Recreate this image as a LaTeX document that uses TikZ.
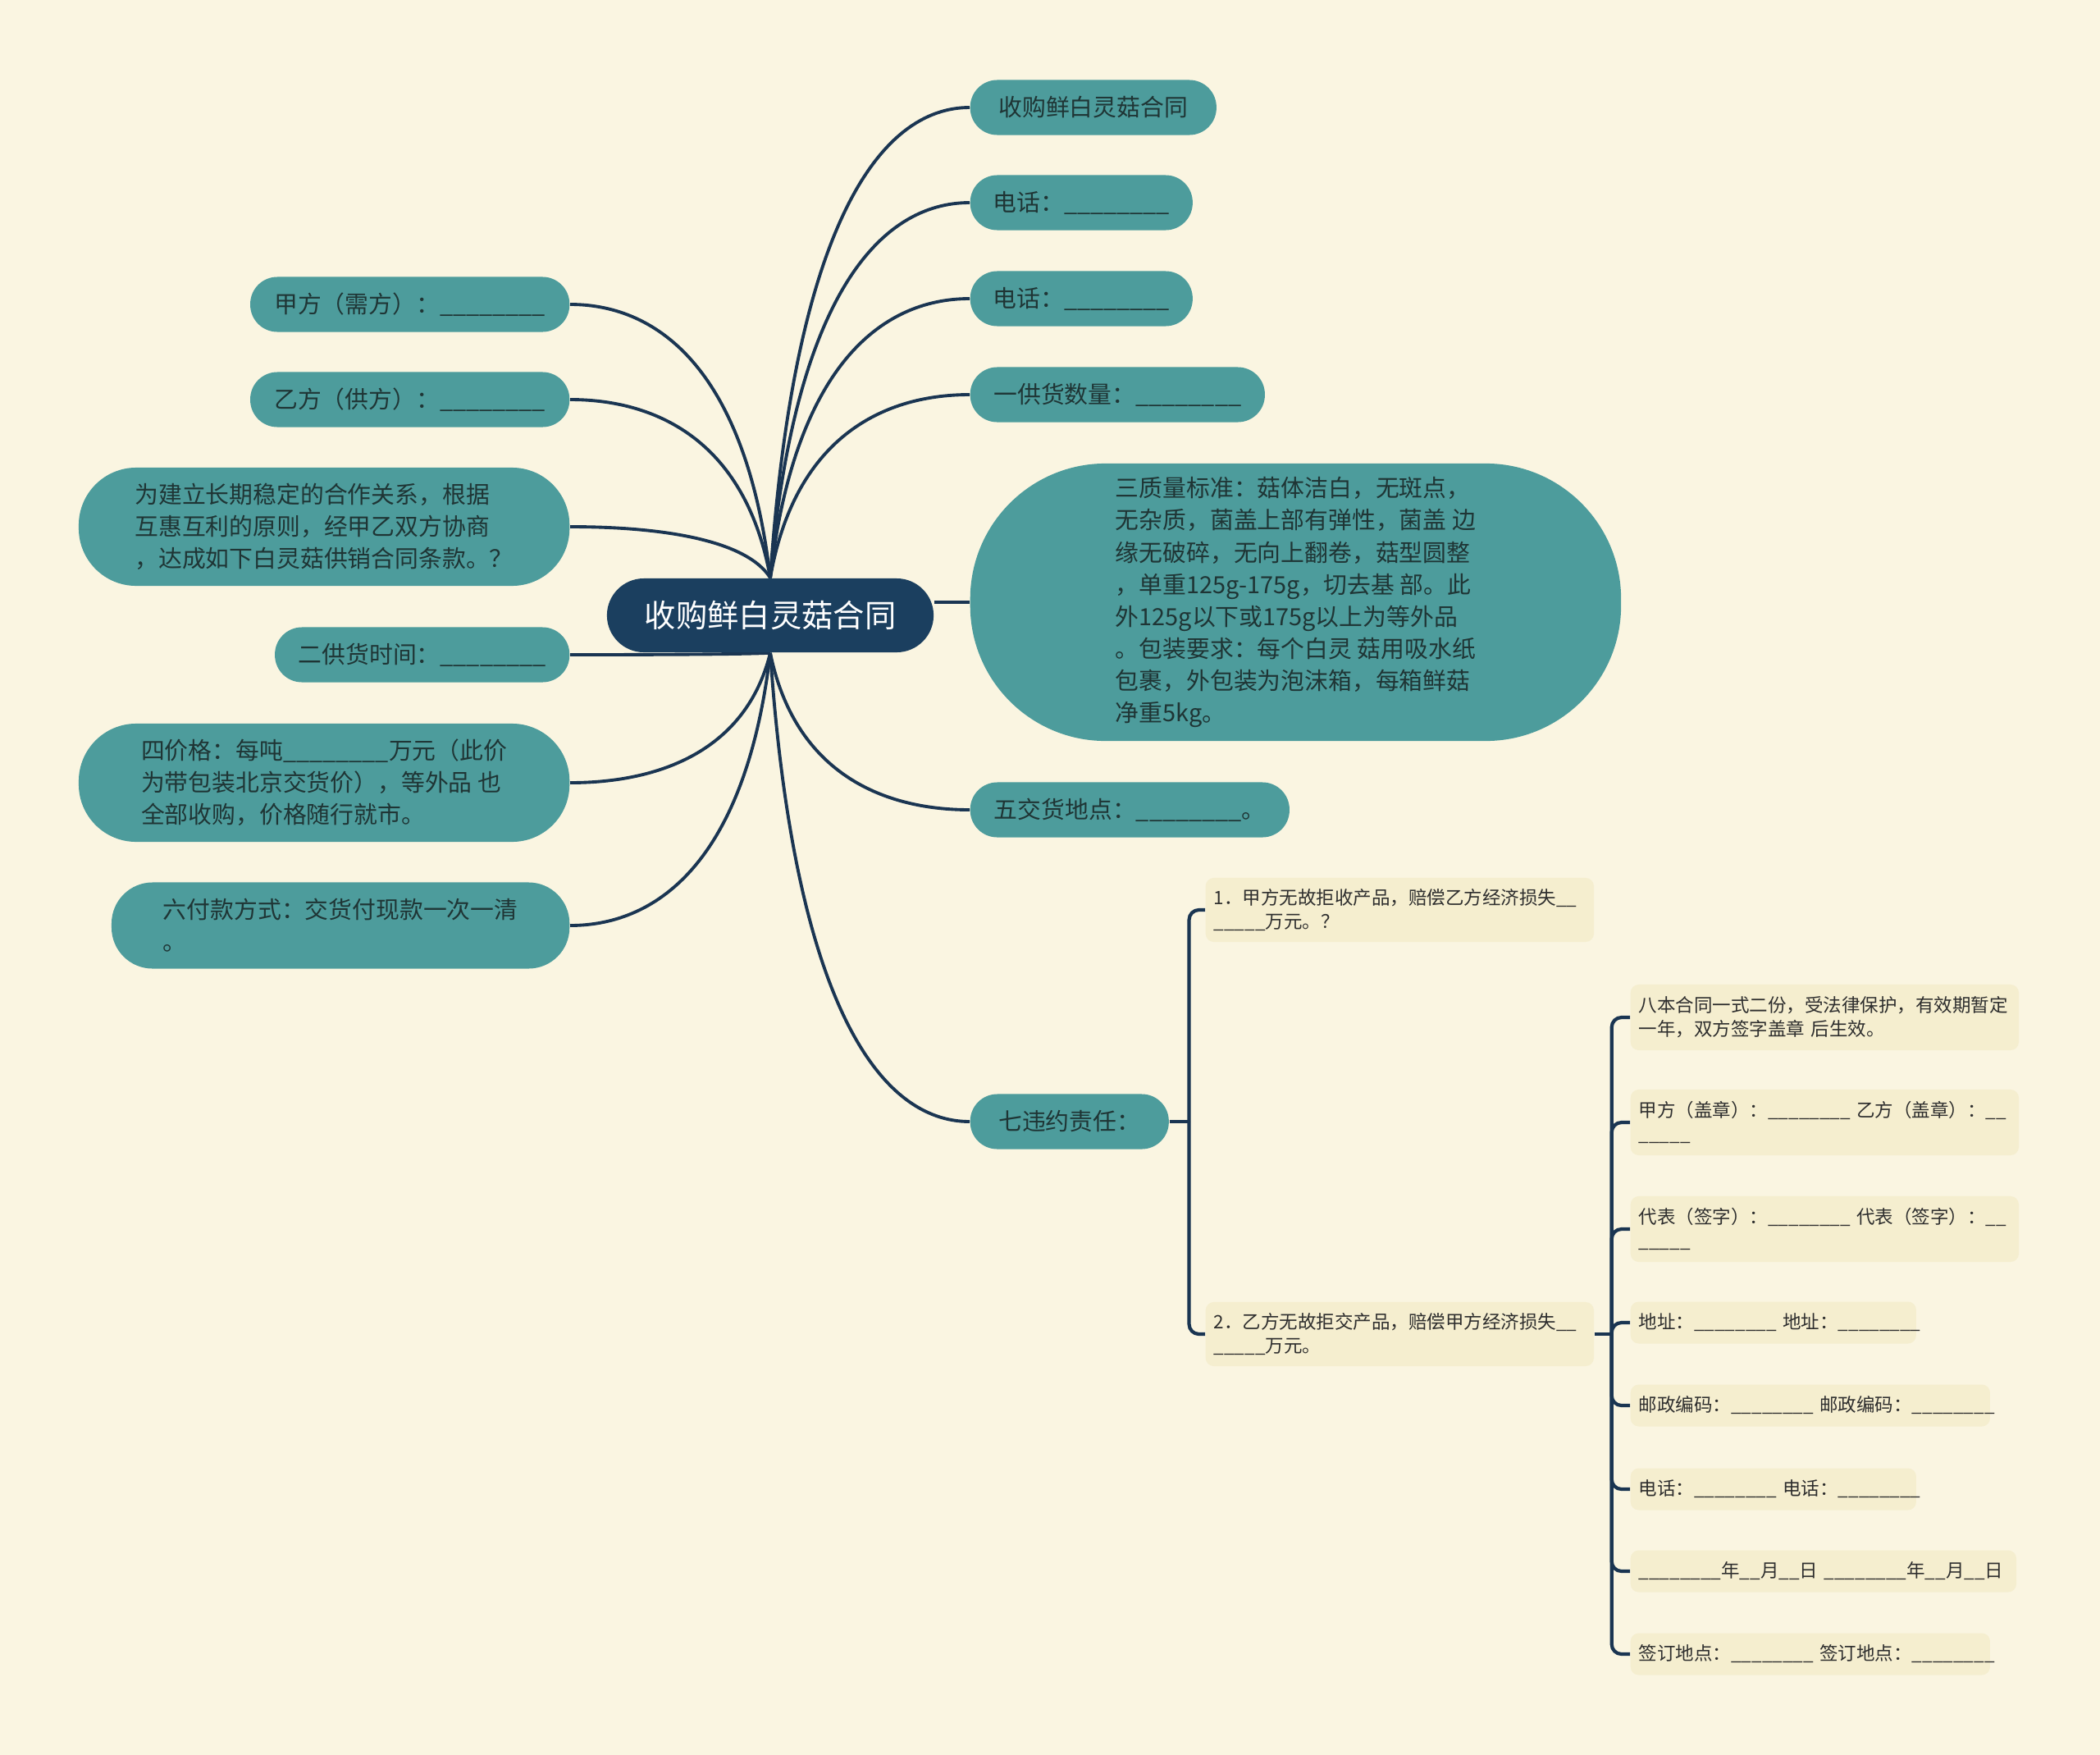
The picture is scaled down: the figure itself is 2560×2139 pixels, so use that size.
\documentclass[tikz,border=0pt]{standalone}
\usepackage{fontspec}
\setmainfont{Noto Sans CJK SC}
\usetikzlibrary{positioning,calc}
\definecolor{paper}{HTML}{FAF5E1}
\definecolor{rootblue}{HTML}{1B3F5F}
\definecolor{topicteal}{HTML}{4D9C9C}
\definecolor{topicink}{HTML}{1F3535}
\definecolor{detailfill}{HTML}{F5EECF}
\definecolor{detailink}{HTML}{2E2E2E}
\definecolor{linkblue}{HTML}{1A3552}
\pgfdeclarelayer{bgl}
\pgfdeclarelayer{edges}
\pgfsetlayers{bgl,edges,main}
\newcommand\kongbai{\_\_\_\_\_\_\_\_}

\begin{document}
\begin{tikzpicture}[
    x=0.01cm, y=-0.01cm,
    rootnode/.style={fill=rootblue, text=white, rounded corners=0.45cm, minimum width=3.98cm, minimum height=0.9cm, inner sep=0pt, font=\fontsize{10.9}{13}\selectfont},
    topic/.style={fill=topicteal, text=topicink, rounded corners=0.33cm, minimum height=0.67cm, inner sep=0pt, align=left, font=\fontsize{8.2}{11.1}\selectfont},
    detail/.style={fill=detailfill, text=detailink, rounded corners=0.1cm, anchor=west, inner xsep=0.1cm, inner ysep=0pt, align=left, font=\fontsize{6.4}{8.2}\selectfont},
    branch/.style={draw=linkblue, line width=1.1pt, to path={let \p1=(\tikztostart), \p2=(\tikztotarget) in .. controls ({\x1+0.12*(\x2-\x1)},{\y1+0.75*(\y2-\y1)}) and ({\x2-0.45*(\x2-\x1)},\y2) .. (\tikztotarget)}},
    brace/.style={draw=linkblue, line width=1.2pt, rounded corners=0.12cm}
]
\useasboundingbox (0,0) rectangle (2560,2139);
\begin{pgfonlayer}{bgl}
\fill[paper] (0,0) rectangle (2560,2139);
\end{pgfonlayer}

% centre
\node[rootnode] (root) at (939,750) {收购鲜白灵菇合同};

% right side
\node[topic, anchor=west, minimum width=3.00cm] (title) at (1182,131) {收购鲜白灵菇合同};
\node[topic, anchor=west, minimum width=2.71cm] (tel1) at (1182,247) {电话：\kongbai};
\node[topic, anchor=west, minimum width=2.71cm] (tel2) at (1182,364) {电话：\kongbai};
\node[topic, anchor=west, minimum width=3.59cm] (qty) at (1182,481) {一供货数量：\kongbai};
\node[topic, anchor=west, minimum width=7.93cm, minimum height=3.38cm, rounded corners=1.65cm] (quality) at (1182,734)
{三质量标准：菇体洁白，无斑点，\\无杂质，菌盖上部有弹性，菌盖 边\\缘无破碎，无向上翻卷，菇型圆整\\，单重125g-175g，切去基 部。此\\外125g以下或175g以上为等外品\\。包装要求：每个白灵 菇用吸水纸\\包裹，外包装为泡沫箱，每箱鲜菇\\净重5kg。};
\node[topic, anchor=west, minimum width=3.89cm] (place) at (1182,987) {五交货地点：\kongbai。};
\node[topic, anchor=west, minimum width=2.42cm] (breach) at (1182,1367) {七违约责任：};

% left side
\node[topic, anchor=east, minimum width=3.89cm] (partyA) at (695,371) {甲方（需方）：\kongbai};
\node[topic, anchor=east, minimum width=3.89cm] (partyB) at (695,487) {乙方（供方）：\kongbai};
\node[topic, anchor=east, minimum width=5.98cm, minimum height=1.44cm, rounded corners=0.7cm] (intro) at (695,642)
{为建立长期稳定的合作关系，根据\\互惠互利的原则，经甲乙双方协商\\，达成如下白灵菇供销合同条款。？};
\node[topic, anchor=east, minimum width=3.59cm] (time) at (695,798) {二供货时间：\kongbai};
\node[topic, anchor=east, minimum width=5.98cm, minimum height=1.44cm, rounded corners=0.7cm] (price) at (695,954)
{四价格：每吨\kongbai 万元（此价\\为带包装北京交货价），等外品 也\\全部收购，价格随行就市。};
\node[topic, anchor=east, minimum width=5.58cm, minimum height=1.05cm, rounded corners=0.5cm] (pay) at (695,1128)
{六付款方式：交货付现款一次一清\\。};

% breach details
\node[detail, text width=4.53cm, minimum height=0.78cm] (c1) at (1469,1109) {1．甲方无故拒收产品，赔偿乙方经济损失\_\_\\\_\_\_\_\_万元。？};
\node[detail, text width=4.53cm, minimum height=0.78cm] (c2) at (1469,1626) {2．乙方无故拒交产品，赔偿甲方经济损失\_\_\\\_\_\_\_\_万元。};

\node[detail, text width=4.53cm, minimum height=0.80cm] (d1) at (1987,1240) {八本合同一式二份，受法律保护，有效期暂定\\一年，双方签字盖章~后生效。};
\node[detail, text width=4.53cm, minimum height=0.80cm] (d2) at (1987,1368) {甲方（盖章）：\kongbai~乙方（盖章）：\_\_\\\_\_\_\_\_};
\node[detail, text width=4.53cm, minimum height=0.80cm] (d3) at (1987,1498) {代表（签字）：\kongbai~代表（签字）：\_\_\\\_\_\_\_\_};
\node[detail, text width=3.28cm, minimum height=0.51cm] (d4) at (1987,1612) {地址：\kongbai~地址：\kongbai};
\node[detail, text width=4.18cm, minimum height=0.51cm] (d5) at (1987,1713) {邮政编码：\kongbai~邮政编码：\kongbai};
\node[detail, text width=3.28cm, minimum height=0.51cm] (d6) at (1987,1815) {电话：\kongbai~电话：\kongbai};
\node[detail, text width=4.50cm, minimum height=0.51cm] (d7) at (1987,1915) {\kongbai 年\_\_月\_\_日~\kongbai 年\_\_月\_\_日};
\node[detail, text width=4.18cm, minimum height=0.51cm] (d8) at (1987,2016) {签订地点：\kongbai~签订地点：\kongbai};

\begin{pgfonlayer}{edges}
\draw[branch] (root.north) to (title.west);
\draw[branch] (root.north) to (tel1.west);
\draw[branch] (root.north) to (tel2.west);
\draw[branch] (root.north) to (qty.west);
\draw[branch] (root.east |- quality.west) -- (quality.west);
\draw[branch] (root.south) to (place.west);
\draw[branch] (root.south) to (breach.west);
\draw[branch] (root.north) to (partyA.east);
\draw[branch] (root.north) to (partyB.east);
\draw[branch] (root.north) to (intro.east);
\draw[branch] (root.south) to (time.east);
\draw[branch] (root.south) to (price.east);
\draw[branch] (root.south) to (pay.east);

\draw[brace] (breach.east) -- ++(24,0) coordinate (bj);
\draw[brace] (bj) |- (c1.west);
\draw[brace] (bj) |- (c2.west);

\draw[brace] (c2.east) -- ++(21,0) coordinate (cj);
\draw[brace] (cj) |- (d1.west);
\draw[brace] (cj) |- (d2.west);
\draw[brace] (cj) |- (d3.west);
\draw[brace] (cj) |- (d4.west);
\draw[brace] (cj) |- (d5.west);
\draw[brace] (cj) |- (d6.west);
\draw[brace] (cj) |- (d7.west);
\draw[brace] (cj) |- (d8.west);
\end{pgfonlayer}
\end{tikzpicture}
\end{document}
